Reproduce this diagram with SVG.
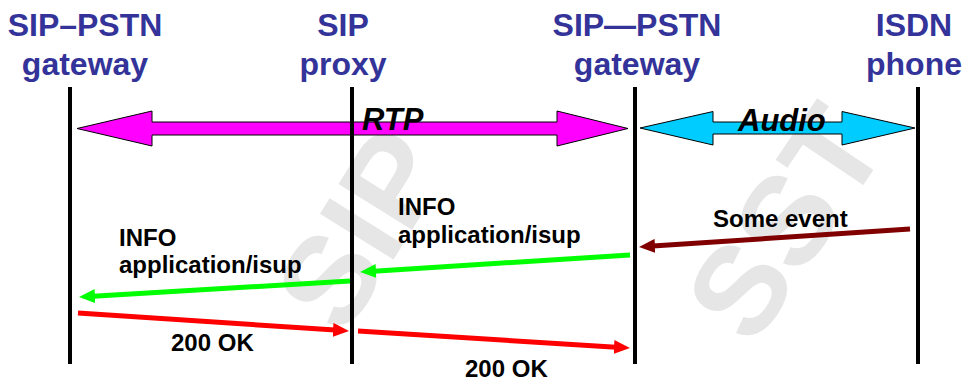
<svg xmlns="http://www.w3.org/2000/svg" width="964" height="381" viewBox="0 0 964 381">
  <defs>
    <style>
      .title { font-family: "Liberation Sans", Arial, sans-serif; font-weight: bold; font-size: 32px; fill: #333399; text-anchor: middle; }
      .lbl { font-family: "Liberation Sans", Arial, sans-serif; font-weight: bold; font-size: 24px; fill: #000000; }
      .blk { font-family: "Liberation Sans", Arial, sans-serif; font-weight: bold; font-style: italic; font-size: 31px; fill: #000000; }
      .wm { font-family: "Liberation Sans", Arial, sans-serif; font-weight: bold; font-size: 126px; fill: #E6E6E6; text-anchor: middle; }
      .life { stroke: #000000; stroke-width: 4; }
      .msg { fill: none; stroke-width: 5; }
      .block { stroke: #000000; stroke-width: 1; }
    </style>
    <marker id="ah-dred" markerUnits="userSpaceOnUse" markerWidth="16" markerHeight="14" refX="6" refY="7" orient="auto">
      <path d="M0,0 L16,7 L0,14 z" fill="#800000"/>
    </marker>
    <marker id="ah-green" markerUnits="userSpaceOnUse" markerWidth="16" markerHeight="14" refX="6" refY="7" orient="auto">
      <path d="M0,0 L16,7 L0,14 z" fill="#00FF00"/>
    </marker>
    <marker id="ah-red" markerUnits="userSpaceOnUse" markerWidth="16" markerHeight="14" refX="6" refY="7" orient="auto">
      <path d="M0,0 L16,7 L0,14 z" fill="#FF0000"/>
    </marker>
  </defs>
  <rect width="964" height="381" fill="#FFFFFF"/>

  <g id="watermark">
    <text class="wm" transform="translate(360,228) rotate(-58)" x="0" y="45">SIP</text>
    <text class="wm" transform="translate(784,222) rotate(-56)" x="0" y="45">SST</text>
  </g>

  <g id="streams">
    <polygon class="block" fill="#FF00FF" points="77,128.5 152,111 152,122 557,122 557,111 628,128.5 557,146 557,135 152,135 152,146"/>
    <polygon class="block" fill="#00CCFF" points="640,128 713,111.5 713,122 842,122 842,111.5 915,128 842,145 842,134 713,134 713,145"/>
  </g>

  <g id="gw1">
    <text class="title" x="85" y="36">SIP–PSTN</text>
    <text class="title" x="85" y="75">gateway</text>
    <line class="life" x1="70" y1="87" x2="70" y2="364"/>
  </g>
  <g id="proxy">
    <text class="title" x="343" y="36">SIP</text>
    <text class="title" x="343" y="75">proxy</text>
    <line class="life" x1="352" y1="87" x2="352" y2="364"/>
  </g>
  <g id="gw2">
    <text class="title" x="637" y="36">SIP—PSTN</text>
    <text class="title" x="637" y="75">gateway</text>
    <line class="life" x1="635" y1="87" x2="635" y2="364"/>
  </g>
  <g id="isdn">
    <text class="title" x="914" y="36">ISDN</text>
    <text class="title" x="914" y="75">phone</text>
    <line class="life" x1="918" y1="87" x2="918" y2="364"/>
  </g>

  <g id="stream-labels">
    <text class="blk" x="362" y="130">RTP</text>
    <text class="blk" x="738" y="131">Audio</text>
  </g>

  <g id="connectors">
    <line class="msg" stroke="#800000" x1="910" y1="229" x2="649" y2="246.3" marker-end="url(#ah-dred)"/>
    <line class="msg" stroke="#00FF00" x1="630" y1="255" x2="370" y2="271.4" marker-end="url(#ah-green)"/>
    <line class="msg" stroke="#00FF00" x1="350" y1="281" x2="89" y2="296.4" marker-end="url(#ah-green)"/>
    <line class="msg" stroke="#FF0000" x1="78" y1="313" x2="339" y2="330.3" marker-end="url(#ah-red)"/>
    <line class="msg" stroke="#FF0000" x1="358" y1="331" x2="620" y2="347.4" marker-end="url(#ah-red)"/>
  </g>

  <g id="msg-labels">
    <text class="lbl" x="713" y="227">Some event</text>
    <text class="lbl" x="398" y="215">INFO</text>
    <text class="lbl" x="398" y="243">application/isup</text>
    <text class="lbl" x="119" y="246">INFO</text>
    <text class="lbl" x="119" y="273">application/isup</text>
    <text class="lbl" x="171" y="351">200 OK</text>
    <text class="lbl" x="465" y="377">200 OK</text>
  </g>
</svg>
